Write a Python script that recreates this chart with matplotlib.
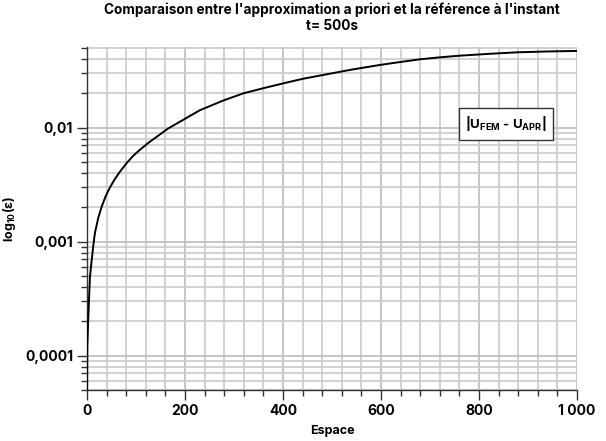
"""
Erreur entre l'approximation a priori et la référence FEM à t = 500 s.
"""
import matplotlib.pyplot as plt
import matplotlib.ticker as mticker
import numpy as np

plt.rcParams['font.family'] = ['Inter', 'DejaVu Sans']
plt.rcParams['font.weight'] = 'bold'
plt.rcParams['mathtext.fontset'] = 'custom'
plt.rcParams['mathtext.rm'] = 'Inter:bold'
plt.rcParams['mathtext.bf'] = 'Inter:bold'
plt.rcParams['mathtext.it'] = 'Inter:bold'

# valeurs
espace = [0, 0.6, 2.7, 6, 9.6, 13, 16.3, 23, 30, 38, 47, 57, 67, 81, 95,
          108, 125, 142, 165, 190, 230, 278, 319, 360, 401, 440, 482, 540,
          598, 640, 680, 720, 761, 820, 877, 940, 1000]
erreur = [4e-5, 1.2e-4, 2.2e-4, 4.9e-4, 6.9e-4, 9.4e-4, 1.2e-3, 1.62e-3,
          2.03e-3, 2.5e-3, 3.0e-3, 3.55e-3, 4.1e-3, 4.9e-3, 5.7e-3,
          6.4e-3, 7.35e-3, 8.3e-3, 9.8e-3, 0.0113, 0.0142, 0.0173, 0.0200,
          0.0222, 0.0245, 0.0268, 0.0290, 0.0323, 0.0355, 0.0377, 0.0398,
          0.0414, 0.0428, 0.0444, 0.0458, 0.0466, 0.0471]

fig = plt.figure(figsize=(6.06, 4.41), dpi=100)
ax = fig.add_axes([87 / 606, 1 - 390 / 441, 490 / 606, 343 / 441])

ax.plot(espace, erreur, color='black', lw=1.4, zorder=3)

ax.set_yscale('log')
ax.set_xlim(0, 1000)
ax.set_ylim(5e-5, 0.051)

ax.xaxis.set_major_locator(mticker.MultipleLocator(200))
ax.xaxis.set_minor_locator(mticker.MultipleLocator(40))
ax.xaxis.set_major_formatter(mticker.FuncFormatter(
    lambda v, p: f"{int(v):,}".replace(',', ' ')))
ax.yaxis.set_major_locator(mticker.LogLocator(base=10))
ax.yaxis.set_minor_locator(mticker.LogLocator(base=10, subs=np.arange(2, 10)))
ax.yaxis.set_minor_formatter(mticker.NullFormatter())
ax.yaxis.set_major_formatter(mticker.FuncFormatter(
    lambda v, p: f"{v:.{max(0, -int(round(np.log10(v))))}f}".replace('.', ',')))

ax.grid(which='major', color='#c0c0c0', lw=1.3, zorder=0)
ax.grid(which='minor', color='#cacaca', lw=1.2, zorder=0)

ax.tick_params(which='major', direction='out', length=7, width=1,
               colors='#333333', labelsize=10, labelcolor='black', pad=3)
ax.tick_params(which='minor', direction='out', length=4, width=1,
               colors='#333333')
for s in ['top', 'right']:
    ax.spines[s].set_visible(False)
for s in ['left', 'bottom']:
    ax.spines[s].set_color('#333333')
    ax.spines[s].set_linewidth(1)

ax.set_title("Comparaison entre l'approximation a priori et la référence à l'instant\nt= 500s",
             fontsize=9.8, fontweight='bold', pad=12)
ax.set_xlabel('Espace', fontsize=9, fontweight='bold', labelpad=5)
ax.set_ylabel(r'log$_{10}$(ε)', fontsize=9, fontweight='bold')
ax.yaxis.set_label_coords(-0.14, 0.5)

ax.text(0.855, 0.776, r'|U$_{\mathregular{FEM}}$ - U$_{\mathregular{APR}}$|',
        transform=ax.transAxes, ha='center', va='center', fontsize=9.5,
        zorder=5,
        bbox=dict(boxstyle='square,pad=0.5', fc='white', ec='#333333', lw=1))

fig.savefig('out.png', dpi=100)
